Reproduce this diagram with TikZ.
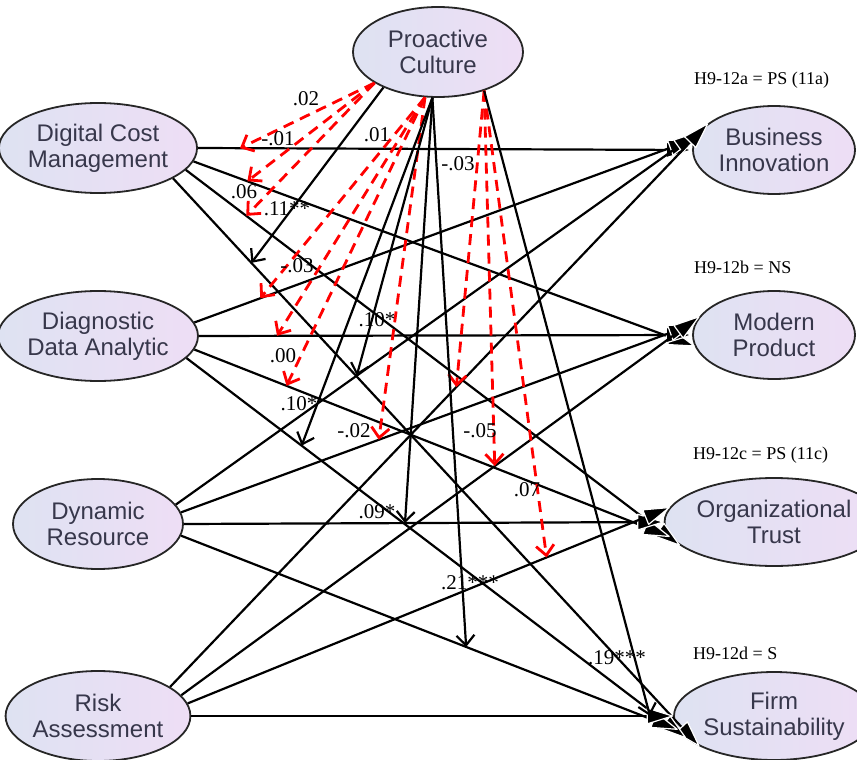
\documentclass[tikz,border=0pt]{standalone}
\usepackage{fontspec}
\setmainfont{Liberation Serif}
\setsansfont{Liberation Sans}
\usetikzlibrary{calc,arrows.meta,shapes.geometric}

\definecolor{elipseA}{RGB}{222,226,242}
\definecolor{elipseB}{RGB}{238,222,245}
\definecolor{textoel}{RGB}{55,55,75}

\begin{document}
\begin{tikzpicture}[x=1pt,y=-1pt,
  indep/.style={ellipse,draw=black!85,line width=1.8pt,minimum width=170pt,minimum height=90pt,inner sep=0pt,align=center,
    left color=elipseA,right color=elipseB,text=textoel,font=\sffamily\fontsize{24}{26}\selectfont},
  dep/.style={indep,minimum width=162pt,minimum height=88pt},
  camino/.style={line width=2.2pt,-{Triangle[length=28pt,width=17pt,line width=1.2pt,round,color=white,fill=black]}},
  moder/.style={line width=2.2pt,-{Straight Barb[length=10pt,width=18pt]}},
  moderr/.style={moder,red,line width=2.8pt,dash pattern=on 11pt off 7pt},
  coef/.style={inner sep=0pt,font=\fontsize{21}{23}\selectfont},
  hip/.style={inner sep=0pt,anchor=west,font=\fontsize{18}{20}\selectfont}]
  \useasboundingbox (0,0) rectangle (857,760);
  % variables
  \node[indep] (pc) at (438,52) {Proactive\\Culture};
  \node[indep] (dcm) at (98,148) {Digital Cost\\Management};
  \node[indep] (dda) at (98,336) {Diagnostic\\Data Analytic};
  \node[indep] (dr) at (98,524) {Dynamic\\Resource};
  \node[indep] (ra) at (98,716) {Risk\\Assessment};
  \node[dep] (bi) at (774,150) {Business\\Innovation};
  \node[dep] (mp) at (774,335) {Modern\\Product};
  \node[dep] (ot) at (774,522) {Organizational\\Trust};
  \node[dep] (fs) at (774,716) {Firm\\Sustainability};
  % caminos
  \foreach \ori [count=\i] in {dcm,dda,dr,ra}
    \foreach \des [count=\j] in {bi,mp,ot,fs}{
      \pgfmathtruncatemacro\angs{{22,14,8,0,-8,-14,-22}[\j-\i+3]}
      \pgfmathtruncatemacro\ange{180-\angs}
      \draw[camino] (\ori.\angs) coordinate (s\i\j) -- (\des.\ange) coordinate (e\i\j);
    }
  % puntos de moderacion
  \coordinate (m11) at ($(s11)!(240,140)!(e11)$);
  \coordinate (m12) at ($(s12)!(253,166)!(e12)$);
  \coordinate (m13) at ($(s13)!(253,207)!(e13)$);
  \coordinate (m14) at ($(s14)!(262,253)!(e14)$);
  \coordinate (m21) at ($(s21)!(258,292)!(e21)$);
  \coordinate (m22) at ($(s22)!(277,320)!(e22)$);
  \coordinate (m23) at ($(s23)!(290,377)!(e23)$);
  \coordinate (m24) at ($(s24)!(312,432)!(e24)$);
  \coordinate (m31) at ($(s31)!(362,383)!(e31)$);
  \coordinate (m32) at ($(s32)!(380,443)!(e32)$);
  \coordinate (m33) at ($(s33)!(405,522)!(e33)$);
  \coordinate (m34) at ($(s34)!(472,632)!(e34)$);
  \coordinate (m41) at ($(s41)!(470,400)!(e41)$);
  \coordinate (m42) at ($(s42)!(505,480)!(e42)$);
  \coordinate (m43) at ($(s43)!(555,578)!(e43)$);
  \coordinate (m44) at ($(s44)!(650,708)!(e44)$);
  % moderacion no significativa
  \foreach \m in {m11,m12,m13} \draw[moderr] (pc.206) -- (\m);
  \foreach \m in {m21,m22,m23,m32} \draw[moderr] (pc.254) -- (\m);
  \foreach \m in {m41,m42,m43} \draw[moderr] (pc.320) -- (\m);
  % moderacion significativa
  \draw[moder] (pc.213) -- (m14);
  \foreach \m in {m24,m31,m33,m34} \draw[moder] (pc.263) -- (\m);
  \draw[moder] (pc.320) -- (m44);
  % coeficientes
  \node[coef] (c11) at (278,139) {-.01};
  \node[coef] (c12) at (306,99) {.02};
  \node[coef] (c13) at (244,192) {.06};
  \node[coef] (c14) at (287,209) {.11**};
  \node[coef] (c21) at (297,266) {-.03};
  \node[coef] (c22) at (377,135) {.01};
  \node[coef] (c23) at (283,356) {.00};
  \node[coef] (c24) at (299,404) {.10*};
  \node[coef] (c31) at (377,320) {.10*};
  \node[coef] (c32) at (354,431) {-.02};
  \node[coef] (c33) at (377,512) {.09*};
  \node[coef] (c34) at (470,583) {.21***};
  \node[coef] (c41) at (458,164) {-.03};
  \node[coef] (c42) at (480,431) {-.05};
  \node[coef] (c43) at (527,490) {.07};
  \node[coef] (c44) at (617,658) {.19***};
  % hipotesis
  \node[hip] (h1) at (694,80) {H9-12a = PS (11a)};
  \node[hip] (h2) at (694,267) {H9-12b = NS};
  \node[hip] (h3) at (693,455) {H9-12c = PS (11c)};
  \node[hip] (h4) at (693,653) {H9-12d = S};
\end{tikzpicture}
\end{document}
